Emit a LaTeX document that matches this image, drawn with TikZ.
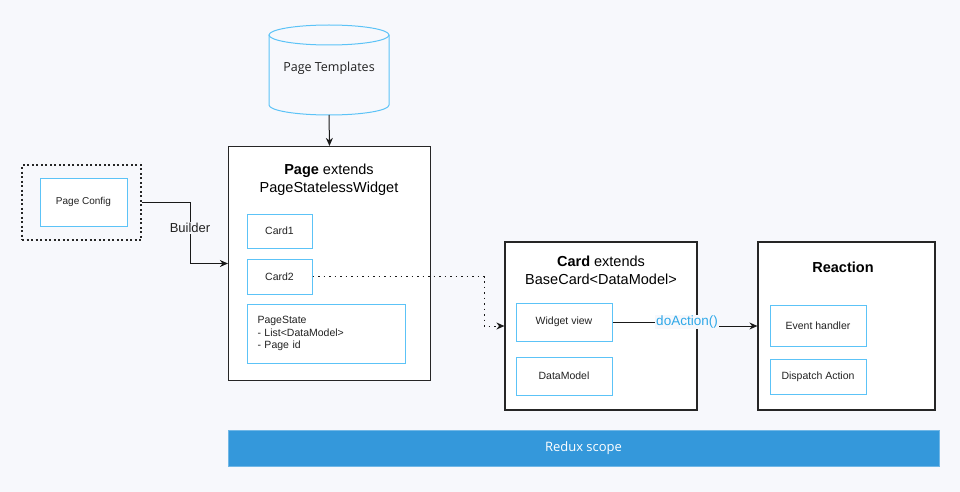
\documentclass[tikz,border=0pt]{standalone}
\usepackage{fontspec}
\setmainfont{Liberation Sans}
\newfontfamily\ofont{Open Sans}
\usetikzlibrary{arrows.meta,calc}
\definecolor{bg}{HTML}{F7F8FC}
\definecolor{inb}{HTML}{5CC3F7}
\definecolor{blu}{HTML}{2FA8E8}
\definecolor{bar}{HTML}{3498DB}
\definecolor{txt}{HTML}{222222}
\tikzset{
  bigbox/.style={draw=black!85, fill=white, line width=1.2pt, inner sep=0pt},
  inbox/.style={draw=inb, fill=white, line width=1pt, inner sep=0pt, text=txt, font=\fontsize{10.5}{12.5}\selectfont, align=center},
  title/.style={align=center, text=black, font=\fontsize{14.5}{18}\selectfont},
  conn/.style={line width=1pt, draw=black!90},
  tip/.style={-{Stealth[length=8pt,width=7pt]}},
}
\begin{document}
\begin{tikzpicture}[x=1pt,y=-1pt]
\fill[bg] (0,0) rectangle (960,492);
\useasboundingbox (0,0) rectangle (960,492);

% cylinder
\draw[inb, line width=1pt, fill=bg] (269,35) -- (269,105) arc[start angle=180, end angle=0, x radius=60, y radius=10] -- (389,35);
\draw[inb, line width=1pt] (329,35) ellipse[x radius=60, y radius=10];
\node[text=txt, font=\ofont\fontsize{12.5}{14}\selectfont] (tpl) at (329,68) {Page Templates};
\coordinate (tplb) at (329,115);

% page config
\node[draw=black!85, line width=1.2pt, dash pattern=on 2pt off 2.5pt, minimum width=119pt, minimum height=75pt, inner sep=0pt] (cfgo) at (81.5,202.5) {};
\node[inbox, minimum width=87pt, minimum height=48pt, font=\fontsize{10}{12}\selectfont] (cfg) at (83.5,202) {Page Config};

% page box
\node[bigbox, minimum width=202pt, minimum height=234pt] (page) at (329.5,263.5) {};
\node[title] (pagetitle) at (329,180) {\textbf{Page} extends\\PageStatelessWidget};
\node[inbox, minimum width=65pt, minimum height=34pt] (card1) at (279.5,231) {Card1};
\node[inbox, minimum width=65pt, minimum height=35pt] (card2) at (279.5,276.5) {Card2};
\node[inbox, minimum width=158pt, minimum height=59pt, text width=138pt, inner xsep=10pt, align=left] (pstate) at (326.5,333.5) {PageState\\- List<DataModel>\\- Page id};

% card box
\node[bigbox, minimum width=192pt, minimum height=168pt] (card) at (601,326) {};
\node[title] (cardtitle) at (601,270) {\textbf{Card} extends\\BaseCard<DataModel>};
\node[inbox, minimum width=96pt, minimum height=38pt] (wv) at (564,322) {Widget view};
\node[inbox, minimum width=96pt, minimum height=38pt] (dm) at (564,376) {DataModel};

% reaction box
\node[bigbox, minimum width=177pt, minimum height=168pt] (react) at (846.5,326) {};
\node[title, font=\bfseries\fontsize{14.5}{18}\selectfont] (reacttitle) at (843,267) {Reaction};
\node[inbox, minimum width=96pt, minimum height=41pt] (eh) at (818,326) {Event handler};
\node[inbox, minimum width=96pt, minimum height=35pt] (da) at (818,376.5) {Dispatch Action};

% redux bar
\node[fill=bar, draw=bar!70!white, line width=0.5pt, minimum width=711pt, minimum height=36pt, inner sep=0pt, text=white, font=\ofont\fontsize{13}{15}\selectfont] (redux) at (583.5,448) {Redux scope};

% connectors
\draw[conn, tip] (tplb) -- (page.north);
\draw[conn, tip] (cfgo.east) -- (190,202.5) |- (page.west);
\node[fill=bg, inner sep=1pt, text=txt, font=\fontsize{13}{15}\selectfont] (builder) at (190,228) {Builder};
\draw[conn, tip, dash pattern=on 1.5pt off 4pt] (card2.east) -- (484,276.5) |- (card.west);
\draw[conn, tip] (wv.east) -- (716,322) |- (react.west);
\node[fill=bg, inner sep=1pt, text=blu, font=\fontsize{13.5}{15}\selectfont] (doa) at (687,322) {doAction()};
\end{tikzpicture}
\end{document}
